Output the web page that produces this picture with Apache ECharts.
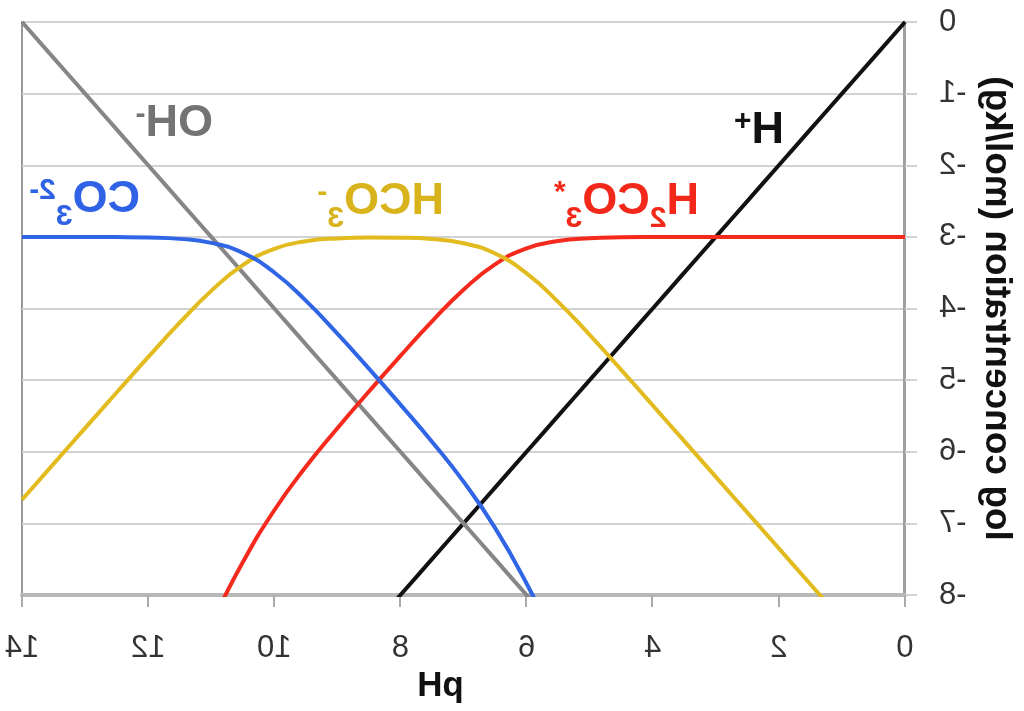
<!DOCTYPE html>
<html>
<head>
<meta charset="utf-8">
<script src="https://cdn.jsdelivr.net/npm/echarts@6/dist/echarts.min.js"></script>
<style>
html,body{margin:0;padding:0;background:#fff;}
#chart{width:1024px;height:711px;transform:scaleX(-1);}
</style>
</head>
<body>
<div id="chart"></div>
<script>
// pH grid
var pH = [0,0.5,1,1.5,2,2.5,3,3.5,4,4.5,5,5.5,6,6.5,7,7.5,8,8.5,9,9.5,10,10.5,11,11.5,12,12.5,13,13.5,14];
// log concentrations
var logH = [0,-0.5,-1,-1.5,-2,-2.5,-3,-3.5,-4,-4.5,-5,-5.5,-6,-6.5,-7,-7.5,-8,-8.5,-9,-9.5,-10,-10.5,-11,-11.5,-12,-12.5,-13,-13.5,-14];
var logOH = [-14,-13.5,-13,-12.5,-12,-11.5,-11,-10.5,-10,-9.5,-9,-8.5,-8,-7.5,-7,-6.5,-6,-5.5,-5,-4.5,-4,-3.5,-3,-2.5,-2,-1.5,-1,-0.5,0];
var logH2CO3 = [-3.000,-3.000,-3.000,-3.000,-3.000,-3.000,-3.000,-3.001,-3.002,-3.006,-3.019,-3.057,-3.160,-3.383,-3.738,-4.180,-4.662,-5.159,-5.671,-6.210,-6.817,-7.544,-8.404,-9.348,null,null,null,null,null];
var logHCO3 = [-9.35,-8.85,-8.35,-7.85,-7.35,-6.85,-6.35,-5.851,-5.352,-4.856,-4.369,-3.907,-3.510,-3.233,-3.088,-3.030,-3.012,-3.009,-3.021,-3.060,-3.167,-3.394,-3.754,-4.198,-4.679,-5.173,-5.671,-6.170,-6.670];
var logCO3 = [null,null,null,null,null,null,null,null,null,null,-9.699,-8.737,-7.840,-7.063,-6.418,-5.860,-5.342,-4.839,-4.351,-3.890,-3.497,-3.224,-3.084,-3.028,-3.009,-3.003,-3.001,-3.000,-3.000];
var yTicks = [-8,-7,-6,-5,-4,-3,-2,-1,0];
var xTicks = [0,2,4,6,8,10,12,14];

function pairs(ys){ return pH.map(function(x,i){ return [x, ys[i]]; }); }

var FONT = 'Liberation Sans, Arial, sans-serif';
function label(text, color, x, y){
  return {
    type:'text', x:x, y:y, z:100,
    style:{
      text:text, fill:color, align:'left', verticalAlign:'middle',
      rich:{
        m:{fontSize:45, fontWeight:'bold', fontFamily:FONT, lineHeight:64, fill:color},
        sb:{fontSize:30, fontWeight:'bold', fontFamily:FONT, lineHeight:28, verticalAlign:'bottom', fill:color},
        sp:{fontSize:30, fontWeight:'bold', fontFamily:FONT, verticalAlign:'top', padding:[8,0,0,0], fill:color}
      }
    }
  };
}

function line(name, ys, color){
  return {
    name:name, type:'line', data:pairs(ys), smooth:true, showSymbol:false, symbol:'none',
    connectNulls:false, clip:true,
    lineStyle:{color:color, width:4}, itemStyle:{color:color}
  };
}

var chart = echarts.init(document.getElementById('chart'), null, {renderer:'canvas'});
chart.setOption({
  animation:false,
  backgroundColor:'#fff',
  grid:{left:119, right:22, top:22, bottom:116, show:true, borderColor:'#999', borderWidth:2, containLabel:false},
  xAxis:{
    type:'value', min:0, max:14, interval:2,
    name:'pH', nameLocation:'middle', nameGap:64,
    nameTextStyle:{fontSize:35, fontWeight:'bold', color:'#111', fontFamily:FONT, padding:[0,0,0,46]},
    axisLine:{show:true, onZero:false, lineStyle:{color:'#b8b8b8', width:4}},
    axisTick:{show:true, length:12, lineStyle:{color:'#aaa', width:2}},
    axisLabel:{fontSize:31, color:'#333', fontFamily:FONT, margin:38,
      formatter:function(v){ return xTicks.indexOf(v) >= 0 ? String(v) : ''; }},
    splitLine:{show:false}
  },
  yAxis:{
    type:'value', min:-8, max:0, interval:1,
    name:'log concentration (mol/kg)', nameLocation:'middle', nameRotate:90, nameGap:70,
    nameTextStyle:{fontSize:37, fontWeight:'bold', color:'#111', fontFamily:FONT},
    axisLine:{show:true, onZero:false, lineStyle:{color:'#a0a0a0', width:3}},
    axisTick:{show:true, length:12, lineStyle:{color:'#d2d2d2', width:2}},
    axisLabel:{fontSize:31, color:'#333', fontFamily:FONT, margin:34,
      formatter:function(v){ return yTicks.indexOf(v) >= 0 ? String(v) : ''; }},
    splitLine:{show:true, lineStyle:{color:'#d2d2d2', width:2}}
  },
  series:[
    line('H+', logH, '#111111'),
    line('OH-', logOH, '#868686'),
    line('H2CO3*', logH2CO3, '#f52a1c'),
    line('HCO3-', logHCO3, '#e2bb1e'),
    line('CO3 2-', logCO3, '#3066e6')
  ],
  graphic:[
    label('{m|OH}{sp|-}', '#737373', 811, 124),
    label('{m|H}{sp|+}', '#111111', 240, 131),
    label('{m|CO}{sb|3}{sp|2-}', '#2f62e4', 884, 200),
    label('{m|HCO}{sb|3}{sp|-}', '#d9b31c', 580, 202),
    label('{m|H}{sb|2}{m|CO}{sb|3}{sp|*}', '#f2281a', 325, 202)
  ]
});
</script>
</body>
</html>
